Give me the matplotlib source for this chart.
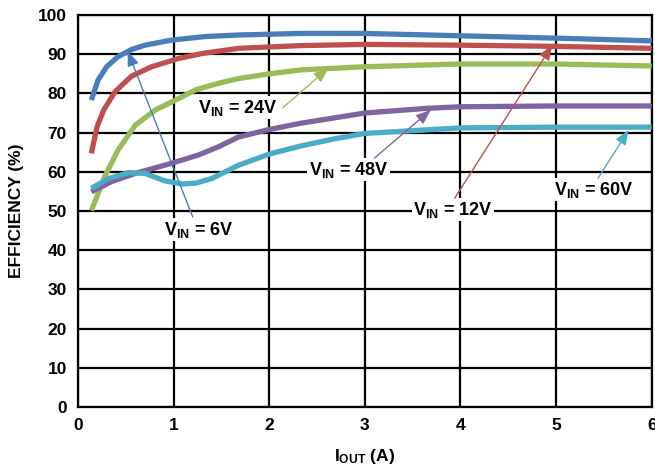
import matplotlib.pyplot as plt

plt.rcParams['font.family'] = ['Liberation Sans', 'DejaVu Sans']
plt.rcParams['mathtext.fontset'] = 'custom'
plt.rcParams['mathtext.rm'] = 'Liberation Sans:bold'
plt.rcParams['mathtext.bf'] = 'Liberation Sans:bold'
plt.rcParams['mathtext.it'] = 'Liberation Sans:bold'

# Efficiency curves (I_OUT in A, efficiency in %)
i_6v = [0.14, 0.21, 0.30, 0.42, 0.56, 0.70, 0.98, 1.33, 1.68, 2.33, 3.0, 4.0, 5.0, 6.0]
eff_6v = [78.3, 83.4, 86.8, 89.4, 91.2, 92.3, 93.6, 94.5, 94.9, 95.3, 95.3, 94.7, 94.1, 93.4]

i_12v = [0.14, 0.20, 0.27, 0.39, 0.56, 0.77, 1.05, 1.30, 1.68, 2.33, 3.0, 4.0, 5.0, 6.0]
eff_12v = [64.7, 71.5, 75.8, 80.5, 84.4, 86.8, 88.9, 90.2, 91.5, 92.2, 92.5, 92.3, 92.0, 91.5]

i_24v = [0.14, 0.28, 0.42, 0.60, 0.81, 1.02, 1.23, 1.47, 1.68, 2.0, 2.33, 3.0, 4.0, 5.0, 6.0]
eff_24v = [50.1, 58.8, 65.6, 71.9, 75.8, 78.3, 80.9, 82.6, 83.8, 85.0, 86.0, 86.8, 87.5, 87.5, 87.0]

i_48v = [0.14, 0.35, 0.60, 0.98, 1.26, 1.47, 1.68, 2.0, 2.33, 3.0, 3.65, 4.0, 5.0, 6.0]
eff_48v = [54.9, 57.5, 59.6, 62.2, 64.3, 66.4, 68.9, 70.8, 72.4, 75.0, 76.2, 76.6, 76.8, 76.8]

i_60v = [0.14, 0.32, 0.53, 0.70, 0.91, 1.09, 1.23, 1.40, 1.68, 2.01, 2.33, 2.7, 3.0, 4.0, 5.0, 6.0]
eff_60v = [55.8, 58.3, 59.8, 59.6, 57.7, 56.9, 57.1, 58.3, 61.7, 64.6, 66.6, 68.5, 69.8, 71.2, 71.4, 71.4]

colors = ['#4a7ebb', '#c0504d', '#9bbb59', '#8064a2', '#4bacc6']

fig = plt.figure(figsize=(6.55, 4.69), dpi=100)
ax = fig.add_axes([0.119, 0.132, 0.876, 0.836])

series = [(i_6v, eff_6v), (i_12v, eff_12v), (i_24v, eff_24v), (i_48v, eff_48v), (i_60v, eff_60v)]
for (x, y), c in zip(series, colors):
    ax.plot(x, y, color=c, lw=3.8, solid_capstyle='butt', solid_joinstyle='round', zorder=3)

# labels: text, text position, arrow tip, arrow tail
notes = [
    (r'$\mathbf{V_{IN}}$ = 6V', (1.26, 45.2), (0.52, 90.8), (1.2, 48.5), colors[0]),
    (r'$\mathbf{V_{IN}}$ = 24V', (1.67, 76.3), (2.62, 86.5), (2.14, 76.3), colors[2]),
    (r'$\mathbf{V_{IN}}$ = 48V', (2.83, 60.5), (3.69, 75.8), (3.1, 63.5), colors[3]),
    (r'$\mathbf{V_{IN}}$ = 12V', (3.92, 50.3), (4.96, 92.3), (3.94, 53.3), colors[1]),
    (r'$\mathbf{V_{IN}}$ = 60V', (5.39, 55.4), (5.76, 70.7), (5.44, 58.4), colors[4]),
]
for txt, pos, tip, tail, c in notes:
    ax.text(pos[0], pos[1], txt, ha='center', va='center', fontsize=13, fontweight='bold',
            bbox=dict(facecolor='white', edgecolor='none', pad=1), zorder=4)
    ax.annotate('', xy=tip, xytext=tail,
                arrowprops=dict(arrowstyle='-|>,head_length=0.9,head_width=0.35', color=c,
                                lw=1, shrinkA=0, shrinkB=0), zorder=5)

ax.set_xlim(0, 6)
ax.set_ylim(0, 100)
ax.set_xticks(range(0, 7))
ax.set_yticks(range(0, 101, 10))
ax.grid(True, color='black', lw=1.6)
ax.set_axisbelow(True)
ax.tick_params(length=0, labelsize=12.5, pad=8)
for lab in ax.get_xticklabels() + ax.get_yticklabels():
    lab.set_fontweight('bold')
for sp in ax.spines.values():
    sp.set_linewidth(1.6)

ax.set_xlabel(r'$\mathbf{I_{OUT}}$ (A)', fontsize=12.5, fontweight='bold', labelpad=10)
ax.set_ylabel('EFFICIENCY (%)', fontsize=12.5, fontweight='bold', labelpad=10)

fig.savefig('out.png', dpi=100)
